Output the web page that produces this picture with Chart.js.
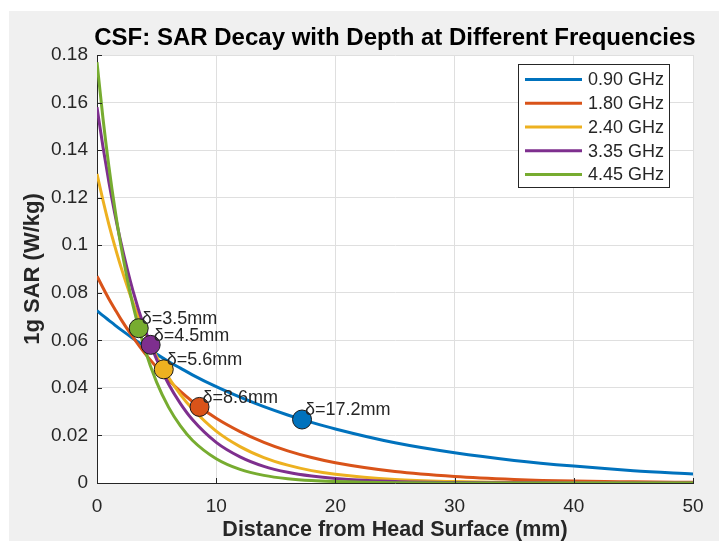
<!DOCTYPE html>
<html>
<head>
<meta charset="utf-8">
<script src="https://cdn.jsdelivr.net/npm/chart.js@4.4.0/dist/chart.umd.min.js"></script>
<style>
  html, body { margin: 0; padding: 0; background: #ffffff; }
  #panel { position: absolute; left: 9px; top: 11px; width: 710px; height: 530px; background: #f0f0f0; }
  canvas { display: block; }
</style>
</head>
<body>
<div id="panel"><canvas id="sarChart" width="710" height="530"></canvas></div>
<script>
// depth samples (mm) and SAR values (W/kg)
const depthMm = [0, 0.5, 1, 1.5, 2, 3, 4, 5, 6, 7, 8, 10, 12, 14, 16, 18, 20, 25, 30, 35, 40, 45, 50];
const sar090 = [0.0725, 0.0704, 0.0684, 0.0664, 0.0645, 0.0609, 0.0575, 0.0542, 0.0511, 0.0483, 0.0455, 0.0405, 0.0361, 0.0321, 0.0286, 0.0255, 0.0227, 0.0169, 0.0127, 0.0095, 0.0071, 0.0052, 0.0038];
const sar180 = [0.0870, 0.0821, 0.0774, 0.0731, 0.0689, 0.0614, 0.0546, 0.0487, 0.0433, 0.0385, 0.0343, 0.0272, 0.0216, 0.0171, 0.0135, 0.0107, 0.0085, 0.0048, 0.0027, 0.0015, 0.0008, 0.0005, 0.0003];
const sar240 = [0.1300, 0.1189, 0.1087, 0.0995, 0.0910, 0.0761, 0.0636, 0.0532, 0.0445, 0.0372, 0.0312, 0.0218, 0.0153, 0.0107, 0.0075, 0.0052, 0.0037, 0.0015, 0.0006, 0.0002, 0.0001, 0.0000, 0.0000];
const sar335 = [0.1580, 0.1414, 0.1265, 0.1132, 0.1013, 0.0811, 0.0650, 0.0520, 0.0416, 0.0334, 0.0267, 0.0171, 0.0110, 0.0070, 0.0045, 0.0029, 0.0019, 0.0006, 0.0002, 0.0001, 0.0000, 0.0000, 0.0000];
const sar445 = [0.1770, 0.1534, 0.1330, 0.1153, 0.1000, 0.0751, 0.0564, 0.0424, 0.0319, 0.0240, 0.0180, 0.0102, 0.0057, 0.0032, 0.0018, 0.0010, 0.0006, 0.0001, 0.0000, 0.0000, 0.0000, 0.0000, 0.0000];

const freqLabels = ['0.90 GHz', '1.80 GHz', '2.40 GHz', '3.35 GHz', '4.45 GHz'];
const seriesColors = ['#0072BD', '#D95319', '#EDB120', '#7E2F8E', '#77AC30'];

// penetration depth markers
const deltaMm = [17.2, 8.6, 5.6, 4.5, 3.5];
const deltaSar = [0.0267, 0.0320, 0.0478, 0.0581, 0.0651];
const deltaLabels = ['δ=17.2mm', 'δ=8.6mm', 'δ=5.6mm', 'δ=4.5mm', 'δ=3.5mm'];

const xTickValues = [0, 10, 20, 30, 40, 50];
const yTickValues = [0, 0.02, 0.04, 0.06, 0.08, 0.1, 0.12, 0.14, 0.16, 0.18];
const yTickLabels = ['0', '0.02', '0.04', '0.06', '0.08', '0.1', '0.12', '0.14', '0.16', '0.18'];

const titleText = 'CSF: SAR Decay with Depth at Different Frequencies';
const xTitle = 'Distance from Head Surface (mm)';
const yTitle = '1g SAR (W/kg)';

const FONT = "'Liberation Sans', Arial, sans-serif";
const TEXT = '#262626';

const allSeries = [sar090, sar180, sar240, sar335, sar445];

const lineSets = allSeries.map((vals, i) => ({
  type: 'line',
  label: freqLabels[i],
  data: vals.map((v, j) => ({ x: depthMm[j], y: v })),
  borderColor: seriesColors[i],
  borderWidth: 3,
  pointRadius: 0,
  fill: false,
  cubicInterpolationMode: 'monotone',
  order: 10 - i
}));

const markerSet = {
  type: 'scatter',
  label: 'delta',
  data: deltaMm.map((d, i) => ({ x: d, y: deltaSar[i] })),
  backgroundColor: seriesColors,
  borderColor: '#1a1a1a',
  borderWidth: 1,
  pointRadius: 9.5,
  order: 0
};

const decorPlugin = {
  id: 'decor',
  beforeDraw(chart) {
    const { ctx, chartArea: a } = chart;
    ctx.save();
    ctx.fillStyle = '#ffffff';
    ctx.fillRect(a.left, a.top, a.right - a.left, a.bottom - a.top);
    ctx.restore();
  },
  afterDatasetsDraw(chart) {
    const { ctx } = chart;
    const xs = chart.scales.x, ys = chart.scales.y;
    ctx.save();
    ctx.font = '18px ' + FONT;
    ctx.fillStyle = TEXT;
    ctx.textBaseline = 'middle';
    ctx.textAlign = 'left';
    deltaMm.forEach((d, i) => {
      const px = xs.getPixelForValue(d), py = ys.getPixelForValue(deltaSar[i]);
      ctx.fillText(deltaLabels[i], px + 3, py - 9);
    });
    ctx.restore();
  },
  afterDraw(chart) {
    const { ctx, chartArea: a } = chart;
    const xs = chart.scales.x, ys = chart.scales.y;
    ctx.save();
    // inward ticks
    ctx.strokeStyle = TEXT;
    ctx.lineWidth = 1;
    ctx.beginPath();
    yTickValues.forEach(v => {
      const y = Math.round(ys.getPixelForValue(v)) + 0.5;
      ctx.moveTo(a.left, y); ctx.lineTo(a.left + 5, y);
    });
    xTickValues.forEach(v => {
      const x = Math.round(xs.getPixelForValue(v)) + 0.5;
      ctx.moveTo(x, a.bottom); ctx.lineTo(x, a.bottom - 5);
    });
    ctx.stroke();

    // title
    ctx.fillStyle = '#000000';
    ctx.textAlign = 'center';
    ctx.textBaseline = 'middle';
    ctx.font = 'bold 24px ' + FONT;
    ctx.fillText(titleText, (a.left + a.right) / 2, 27);

    // axis titles
    ctx.fillStyle = TEXT;
    ctx.font = 'bold 21.5px ' + FONT;
    ctx.fillText(xTitle, (a.left + a.right) / 2, 519);
    ctx.save();
    ctx.translate(24, (a.top + a.bottom) / 2);
    ctx.rotate(-Math.PI / 2);
    ctx.font = 'bold 22px ' + FONT;
    ctx.fillText(yTitle, 0, 0);
    ctx.restore();

    // legend
    const bx = 509.5, by = 53.5, bw = 151, bh = 123;
    ctx.fillStyle = '#ffffff';
    ctx.fillRect(bx, by, bw, bh);
    ctx.strokeStyle = TEXT;
    ctx.strokeRect(bx, by, bw, bh);
    ctx.font = '18px ' + FONT;
    ctx.textAlign = 'left';
    freqLabels.forEach((lab, i) => {
      const y = 68.5 + i * 23.75;
      ctx.strokeStyle = seriesColors[i];
      ctx.lineWidth = 3;
      ctx.beginPath();
      ctx.moveTo(516, y); ctx.lineTo(573, y);
      ctx.stroke();
      ctx.fillStyle = TEXT;
      ctx.fillText(lab, 579, y + 1);
    });
    ctx.restore();
  }
};

new Chart(document.getElementById('sarChart'), {
  data: { datasets: [...lineSets, markerSet] },
  options: {
    responsive: false,
    animation: false,
    layout: { padding: { left: 0, top: 44, right: 26, bottom: 0 } },
    plugins: { legend: { display: false }, tooltip: { enabled: false }, title: { display: false } },
    scales: {
      x: {
        type: 'linear',
        min: 0, max: 50,
        afterBuildTicks: s => { s.ticks = xTickValues.map(v => ({ value: v })); },
        afterFit: s => { s.height = 58; },
        grid: { color: '#dfdfdf', drawTicks: false },
        border: { color: TEXT, width: 1 },
        ticks: { padding: 12, color: TEXT, font: { family: FONT, size: 19 }, maxRotation: 0, callback: v => String(v) }
      },
      y: {
        type: 'linear',
        min: 0, max: 0.18,
        afterBuildTicks: s => { s.ticks = yTickValues.map(v => ({ value: v })); },
        afterFit: s => { s.width = 88; },
        grid: { color: '#dfdfdf', drawTicks: false },
        border: { color: TEXT, width: 1 },
        ticks: { padding: 9, color: TEXT, font: { family: FONT, size: 19 },
          callback: (v, i) => yTickLabels[i] }
      }
    }
  },
  plugins: [decorPlugin]
});
</script>
</body>
</html>
